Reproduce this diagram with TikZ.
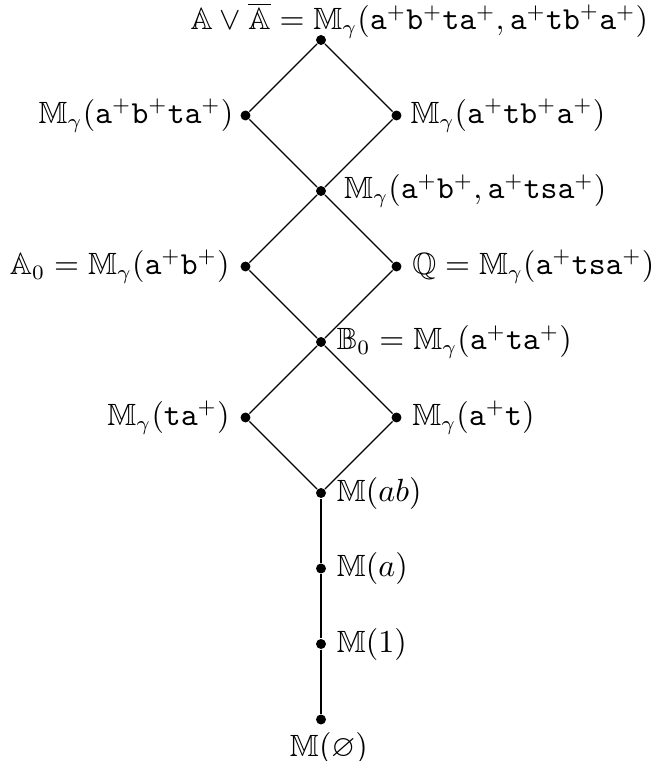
\documentclass[tikz,border=0pt]{standalone}
\usepackage{amsmath,amssymb}
\usetikzlibrary{positioning}

\newcommand{\Mg}{\mathbb{M}_\gamma}
\newcommand{\tw}[1]{\mathtt{#1}}
\tikzset{
  dot/.style={circle,fill,inner sep=0pt,minimum size=3.4pt},
  edge/.style={line width=0.4pt},
  chain/.style={line width=0.8pt},
  every label/.style={font=\fontsize{10.5}{12.5}\selectfont}
}

\begin{document}
\begin{tikzpicture}
  \useasboundingbox (0,0) rectangle (7.884,9.132);
  % the lattice
  \node[dot,label={[xshift=1.18cm,yshift=-5pt]above:$\mathbb{A}\vee\overline{\mathbb{A}}=\Mg(\tw{a}^+\tw{b}^+\tw{ta}^+,\tw{a}^+\tw{tb}^+\tw{a}^+)$}] (top) at (3.852,8.652) {};
  \node[dot,label={[xshift=1.3pt]left:$\Mg(\tw{a}^+\tw{b}^+\tw{ta}^+)$}] (l1) at (2.946,7.746) {};
  \node[dot,label={[xshift=-0.6pt]right:$\Mg(\tw{a}^+\tw{tb}^+\tw{a}^+)$}] (r1) at (4.758,7.746) {};
  \node[dot,label={[xshift=2.5pt]right:$\Mg(\tw{a}^+\tw{b}^+,\tw{a}^+\tw{tsa}^+)$}] (m1) at (3.852,6.840) {};
  \node[dot,label=left:{$\mathbb{A}_0=\Mg(\tw{a}^+\tw{b}^+)$}] (l2) at (2.946,5.934) {};
  \node[dot,label=right:{$\mathbb{Q}=\Mg(\tw{a}^+\tw{tsa}^+)$}] (r2) at (4.758,5.934) {};
  \node[dot,label=right:{$\mathbb{B}_0=\Mg(\tw{a}^+\tw{ta}^+)$}] (m2) at (3.852,5.028) {};
  \node[dot,label=left:{$\Mg(\tw{ta}^+)$}] (l3) at (2.946,4.122) {};
  \node[dot,label=right:{$\Mg(\tw{a}^+\tw{t})$}] (r3) at (4.758,4.122) {};
  \node[dot,label=right:{$\mathbb{M}(ab)$}] (ab) at (3.852,3.216) {};
  \node[dot,label=right:{$\mathbb{M}(a)$}] (a) at (3.852,2.310) {};
  \node[dot,label=right:{$\mathbb{M}(1)$}] (one) at (3.852,1.404) {};
  \node[dot,label={[xshift=2.7pt,yshift=1pt]below:$\mathbb{M}(\varnothing)$}] (empty) at (3.852,0.498) {};

  \draw[edge] (top) -- (l1) -- (m1) -- (r1) -- (top);
  \draw[edge] (m1) -- (l2) -- (m2) -- (r2) -- (m1);
  \draw[edge] (m2) -- (l3) -- (ab) -- (r3) -- (m2);
  \draw[chain] (ab) -- (a) -- (one) -- (empty);
\end{tikzpicture}
\end{document}
